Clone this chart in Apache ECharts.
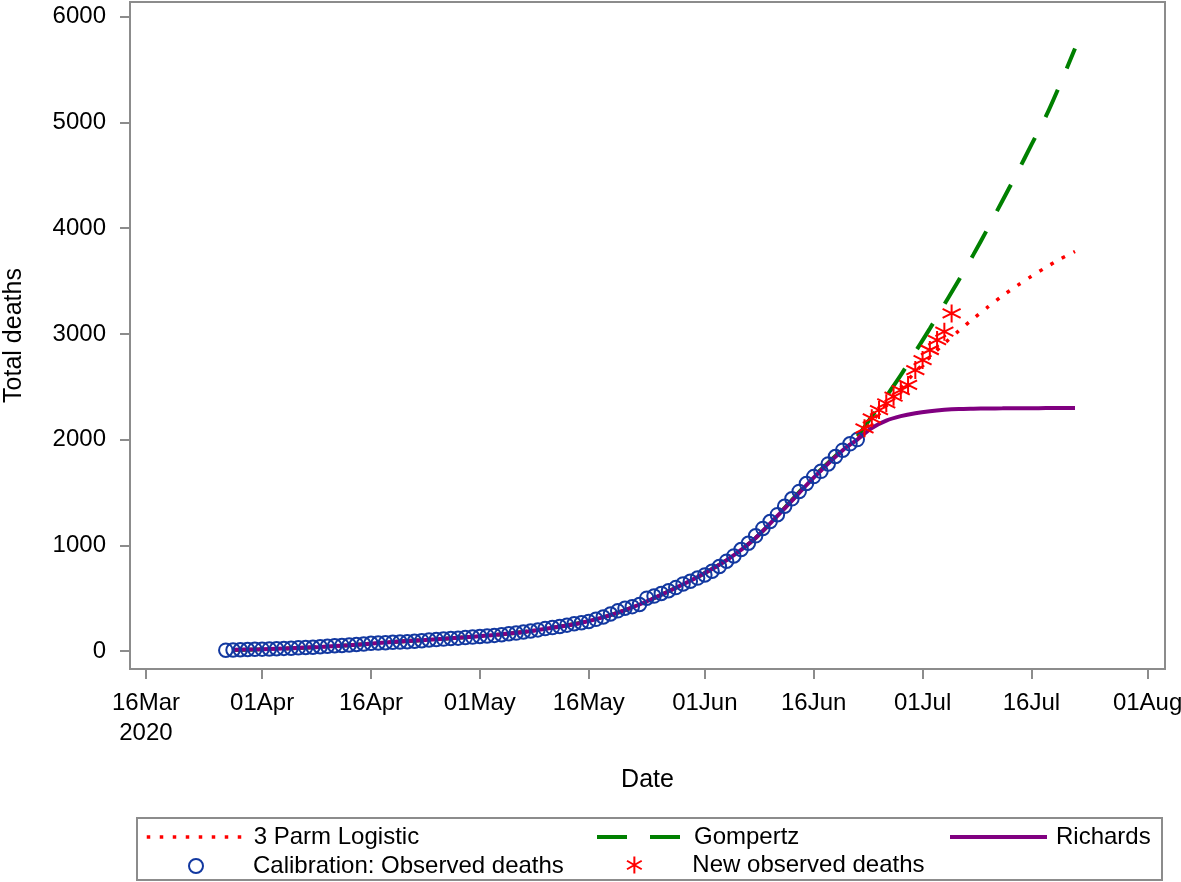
<!DOCTYPE html>
<html>
<head>
<meta charset="utf-8">
<script src="https://cdn.jsdelivr.net/npm/echarts@6/dist/echarts.min.js"></script>
<style>
html,body{margin:0;padding:0;background:#fff;}
#chart{width:1181px;height:882px;}
</style>
</head>
<body>
<div id="chart"></div>
<script>
// ---- Data (days counted from 16 Mar 2020) ----
const originDate = '2020-03-16';
const calibrationStart = '2020-03-27';
const calibrationDeaths = [
  8,10,12,14,16,18,20,22,25,27,
  30,33,36,40,45,50,53,57,62,67,
  73,76,79,82,85,88,93,98,104,108,
  113,118,122,127,132,137,143,148,155,163,
  170,180,190,200,212,222,232,245,258,268,
  280,300,322,350,380,405,420,440,500,520,
  545,570,600,635,660,690,720,755,800,850,
  900,960,1020,1090,1160,1225,1290,1370,1440,1510,
  1585,1650,1700,1770,1840,1900,1960,2000
];
const newObsStart = '2020-06-23';
const newObsDeaths = [2107,2201,2280,2343,2406,2469,2517,2658,2753,2848,2942,3021,3194];

const fitDays = [12,16,20,24,28,32,36,40,44,48,52,56,60,64,68,72,76,80,84,88,92,96,
                 98,100,102,104,106,108,110,112,114,116,118,120,122,124,126,128];
const logisticFit = [12,18,27,39,55,75,94,112,130,152,180,220,268,340,440,565,700,860,1070,1350,1640,1900,
                     2010,2170,2330,2490,2640,2780,2910,3030,3145,3255,3360,3455,3545,3630,3710,3780];
const gompertzFit = [10,16,26,38,55,75,94,112,130,152,180,220,268,340,440,565,700,860,1070,1355,1650,1910,
                     2030,2220,2410,2610,2830,3050,3280,3510,3750,4000,4260,4520,4790,5060,5370,5700];
const richardsFit = [12,18,27,39,55,75,94,112,130,152,180,220,268,340,440,565,700,860,1070,1350,1640,1900,
                     2000,2110,2180,2222,2250,2269,2282,2290,2293,2295,2296,2297,2297,2298,2298,2298];

const tickDates = ['2020-03-16','2020-04-01','2020-04-16','2020-05-01','2020-05-16','2020-06-01','2020-06-16','2020-07-01','2020-07-16','2020-08-01'];
const tickLabels = ['16Mar\n2020','01Apr','16Apr','01May','16May','01Jun','16Jun','01Jul','16Jul','01Aug'];
const yTicks = [0,1000,2000,3000,4000,5000,6000];

// ---- helpers ----
function dayNum(s){
  const p = s.split('-').map(Number);
  const o = originDate.split('-').map(Number);
  return Math.round((Date.UTC(p[0],p[1]-1,p[2]) - Date.UTC(o[0],o[1]-1,o[2]))/86400000);
}
const tickDays = tickDates.map(dayNum);
const calStartDay = dayNum(calibrationStart);
const newStartDay = dayNum(newObsStart);
const calData = calibrationDeaths.map((v,i)=>[calStartDay+i, v]);
const newData = newObsDeaths.map((v,i)=>[newStartDay+i, v]);
const pair = (xs, ys) => xs.map((x,i)=>[x, ys[i]]);

const FONT = 'Liberation Sans';
const AXIS_GRAY = '#8c8c8c';
const BLUE = '#1238a0';
const starPath = 'path://M0,-10L0,10M-8.66,-5L8.66,5M-8.66,5L8.66,-5';

const chart = echarts.init(document.getElementById('chart'), null, {renderer:'canvas'});
function mkLegend(name, left, top, w, h, isLine, lw, padLeft){
  const l = {data:[name], left:left, top:top, itemWidth:w, itemHeight:h, itemGap:0,
          textStyle: {fontFamily: FONT, fontSize: 24, color: '#000', padding:[0,0,0,padLeft]},
          selectedMode:false, padding:0, symbolKeepAspect:true};
  if (isLine) {
    l.itemStyle = {color:'transparent', borderColor:'transparent', borderWidth:0, opacity:0};
    l.lineStyle = {width: lw};
  }
  return l;
}
chart.setOption({
  animation: false,
  textStyle: {fontFamily: FONT},
  grid: {left:130, right:16, top:2, bottom:213, containLabel:false, outerBoundsMode:'none',
         show:true, borderColor:AXIS_GRAY, borderWidth:2, backgroundColor:'#fff'},
  xAxis: {
    type:'value', min:-2.2, max:140.4,
    name:'Date', nameLocation:'middle', nameGap:99,
    nameTextStyle:{fontFamily:FONT, fontSize:25, color:'#000'},
    axisLine:{show:false, onZero:false},
    splitLine:{show:false},
    axisTick:{show:true, length:10, customValues: tickDays, lineStyle:{color:AXIS_GRAY, width:2}},
    axisLabel:{customValues: tickDays, margin:19, fontFamily:FONT, fontSize:24, color:'#000', lineHeight:30,
      formatter: v => { const i = tickDays.indexOf(v); return i>=0 ? tickLabels[i] : ''; }}
  },
  yAxis: {
    type:'value', min:-170, max:6140,
    name:'Total deaths', nameLocation:'middle', nameGap:103,
    nameTextStyle:{fontFamily:FONT, fontSize:25, color:'#000'},
    axisLine:{show:false, onZero:false},
    splitLine:{show:false},
    axisTick:{show:true, length:10, customValues: yTicks, lineStyle:{color:AXIS_GRAY, width:2}},
    axisLabel:{customValues: yTicks, margin:24, fontFamily:FONT, fontSize:24, color:'#000',
      formatter: v => String(v)}
  },
  graphic: [{type:'rect', shape:{x:137, y:818, width:1025, height:62}, style:{fill:'none', stroke:AXIS_GRAY, lineWidth:2}, silent:true, z:-1}],
  legend: [
    mkLegend('3 Parm Logistic', 145, 825, 98, 14, true, 3.5, 4),
    mkLegend('Gompertz', 595, 825, 88, 14, true, 4, 4),
    mkLegend('Richards', 948, 825, 97, 14, true, 4, 4),
    mkLegend('Calibration: Observed deaths', 188, 854, 14, 14, false, 0, 45),
    mkLegend('New observed deaths', 626, 853, 18, 17, false, 0, 44)
  ],
  series: [
    {name:'3 Parm Logistic', type:'line', data: pair(fitDays, logisticFit), smooth:0.3,
     symbol:'none', showSymbol:false, z:3,
     lineStyle:{color:'#ff0000', width:3.5, type:[3.5,9.5], cap:'butt'}, itemStyle:{color:'#ff0000'}},
    {name:'Gompertz', type:'line', data: pair(fitDays, gompertzFit), smooth:0.3,
     symbol:'none', showSymbol:false, z:2,
     lineStyle:{color:'#008000', width:4, type:[30,23], cap:'butt'}, itemStyle:{color:'#008000'}},
    {name:'Richards', type:'line', data: pair(fitDays, richardsFit), smooth:0.3,
     symbol:'none', showSymbol:false, z:4,
     lineStyle:{color:'#800080', width:4}, itemStyle:{color:'#800080'}},
    {name:'Calibration: Observed deaths', type:'scatter', data: calData, symbol:'circle', symbolSize:13.5, z:5,
     itemStyle:{color:'rgba(0,0,0,0)', borderColor:BLUE, borderWidth:2, opacity:1}},
    {name:'New observed deaths', type:'scatter', data: newData, symbol: starPath, symbolSize:18, z:6,
     itemStyle:{color:'#ff0000', borderColor:'#ff0000', borderWidth:2, opacity:1}}
  ]
});
</script>
</body>
</html>
